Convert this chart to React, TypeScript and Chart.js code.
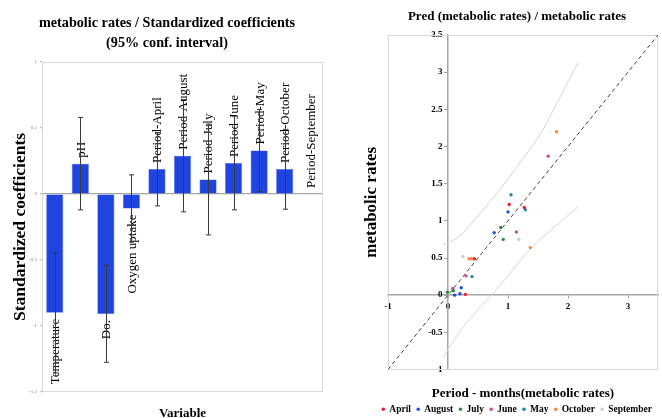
import React, { useEffect, useRef } from 'react';
import { Chart, registerables } from 'chart.js';

Chart.register(...registerables);

const FONT = "'Liberation Serif', 'Times New Roman', serif";

// ---------- Left chart: standardized coefficients ----------
const barCategories = [
  'Temperature', 'pH', 'Do.', 'Oxygen uptake', 'Period-April', 'Period-August',
  'Period-July', 'Period-June', 'Period-May', 'Period-October', 'Period-September',
];
const coefValues = [-0.9, 0.23, -0.91, -0.11, 0.19, 0.29, 0.11, 0.235, 0.33, 0.19, 0];
const coefLower = [-1.355, -0.12, -1.275, -0.365, -0.09, -0.135, -0.31, -0.12, 0.02, -0.115, 0];
const coefUpper = [-0.445, 0.58, -0.54, 0.145, 0.465, 0.715, 0.53, 0.59, 0.64, 0.49, 0];
const coefTicks = [1, 0.5, 0, -0.5, -1, -1.5];

// ---------- Right chart: predicted vs observed ----------
const monthNames = ['April', 'August', 'July', 'June', 'May', 'October', 'September'];
const monthColors = ['#e8242b', '#2250e0', '#2e8b3e', '#d0459c', '#1d8aa8', '#f58a3c', '#cfcfcf'];
const aprilPts = [[1.02, 1.22], [1.27, 1.18], [0.44, 0.49], [0.29, 0.01]];
const augustPts = [[1.0, 1.12], [0.77, 0.84], [0.22, 0.1], [0.11, 0.0], [0.2, 0.02]];
const julyPts = [[0.88, 0.91], [0.92, 0.75], [0.09, 0.06], [-0.01, 0.04]];
const junePts = [[1.67, 1.87], [1.14, 0.85], [0.3, 0.26], [0.08, 0.09]];
const mayPts = [[1.05, 1.35], [1.29, 1.15], [0.4, 0.25]];
const octoberPts = [[1.81, 2.2], [1.37, 0.64], [0.35, 0.49], [0.39, 0.49]];
const septemberPts = [[1.18, 0.75], [0.25, 0.52]];
const monthPoints = [aprilPts, augustPts, julyPts, junePts, mayPts, octoberPts, septemberPts];

const identityLine = [[-1, -1], [3.5, 3.5]];
const upperBand = [[-0.08, 0.68], [0.17, 0.78], [0.44, 1.01], [0.72, 1.28], [0.99, 1.55], [1.27, 1.86], [1.55, 2.18], [1.82, 2.59], [2.17, 3.13]];
const lowerBand = [[-0.08, -0.84], [0.17, -0.52], [0.44, -0.25], [0.72, 0.0], [0.99, 0.25], [1.27, 0.53], [1.55, 0.76], [1.82, 0.95], [2.17, 1.19]];
const xTicksRight = [-1, 0, 1, 2, 3];
const yTicksRight = [-1, -0.5, 0, 0.5, 1, 1.5, 2, 2.5, 3, 3.5];

const toXY = (pts: number[][]) => pts.map(([x, y]) => ({ x, y }));
const fmt = (v: any) => String(Number(v));

const areaBorder = {
  id: 'areaBorder',
  beforeDatasetsDraw(chart: any) {
    const { ctx, chartArea: a } = chart;
    ctx.save();
    ctx.strokeStyle = '#d9d9d9';
    ctx.lineWidth = 1;
    ctx.strokeRect(Math.round(a.left) + 0.5, Math.round(a.top) + 0.5, Math.round(a.right - a.left) - 1, Math.round(a.bottom - a.top) - 1);
    ctx.restore();
  },
};

const barLabels = {
  id: 'barLabels',
  afterDatasetsDraw(chart: any) {
    const { ctx, scales } = chart;
    const x = scales.x;
    const y = scales.y;
    ctx.save();
    ctx.fillStyle = '#000';
    ctx.font = `13px ${FONT}`;
    ctx.textBaseline = 'middle';
    barCategories.forEach((lab, i) => {
      const v = coefValues[i];
      const px = x.getPixelForValue(i) + 1;
      const py = y.getPixelForValue(v);
      ctx.save();
      ctx.translate(px, v >= 0 ? py - 6 : py + 6);
      ctx.rotate(-Math.PI / 2);
      ctx.textAlign = v >= 0 ? 'left' : 'right';
      ctx.fillText(lab, 0, 0);
      ctx.restore();
    });
    ctx.restore();
  },
};

const errorBars = {
  id: 'errorBars',
  afterDatasetsDraw(chart: any) {
    const { ctx, scales } = chart;
    const x = scales.x;
    const y = scales.y;
    ctx.save();
    ctx.strokeStyle = '#3a3a3a';
    ctx.lineWidth = 1;
    coefValues.forEach((_v, i) => {
      const lo = coefLower[i];
      const hi = coefUpper[i];
      if (lo === hi) return;
      const px = Math.round(x.getPixelForValue(i)) + 0.5;
      const y1 = y.getPixelForValue(lo);
      const y2 = y.getPixelForValue(hi);
      ctx.beginPath();
      ctx.moveTo(px, y1);
      ctx.lineTo(px, y2);
      ctx.moveTo(px - 2.5, y1);
      ctx.lineTo(px + 2.5, y1);
      ctx.moveTo(px - 2.5, y2);
      ctx.lineTo(px + 2.5, y2);
      ctx.stroke();
    });
    ctx.restore();
  },
};

const spacerAxis = (w: number) => ({
  type: 'linear',
  position: 'right',
  display: true,
  ticks: { display: false },
  grid: { display: false },
  border: { display: false },
  afterFit: (s: any) => {
    s.width = w;
  },
});

function leftConfig(): any {
  return {
    type: 'bar',
    data: {
      labels: barCategories,
      datasets: [
        {
          data: coefValues,
          backgroundColor: '#1f44e0',
          borderColor: '#4a6cf0',
          borderWidth: 0.6,
          categoryPercentage: 1,
          barPercentage: 0.67,
        },
      ],
    },
    options: {
      responsive: false,
      animation: false,
      layout: { padding: 0 },
      plugins: {
        legend: { display: false },
        tooltip: { enabled: false },
        title: {
          display: true,
          text: ['metabolic rates / Standardized coefficients', '(95% conf. interval)'],
          color: '#000',
          font: { family: FONT, size: 14.2, weight: 'bold', lineHeight: '20px' },
          padding: { top: 13, bottom: 9 },
        },
      },
      scales: {
        x: {
          ticks: { display: false },
          grid: { display: false },
          border: { display: false },
          title: {
            display: true,
            text: 'Variable',
            color: '#000',
            font: { family: FONT, size: 13, weight: 'bold' },
            padding: { top: 0, bottom: 9 },
          },
          afterFit: (s: any) => {
            s.height = 38;
          },
        },
        y: {
          min: -1.5,
          max: 1,
          afterBuildTicks: (s: any) => {
            s.ticks = coefTicks.map((v) => ({ value: v }));
          },
          ticks: { font: { family: FONT, size: 5 }, color: '#7f7f7f', padding: 3, callback: fmt },
          grid: {
            drawOnChartArea: true,
            color: (c: any) => (c.tick && c.tick.value === 0 ? '#a6a6a6' : 'rgba(0,0,0,0)'),
            lineWidth: 1.2,
            tickLength: 2,
            tickColor: '#bfbfbf',
          },
          border: { color: '#d9d9d9' },
          title: {
            display: true,
            text: 'Standardized coefficients',
            color: '#000',
            font: { family: FONT, size: 17.5, weight: 'bold' },
            padding: { top: 9.5, bottom: 0 },
          },
          afterFit: (s: any) => {
            s.width = 42;
          },
        },
        spacer: spacerAxis(11),
      },
    },
    plugins: [areaBorder, barLabels, errorBars],
  };
}

function rightConfig(): any {
  const monthSets = monthNames.map((name, i) => ({
    label: name,
    data: toXY(monthPoints[i]),
    backgroundColor: monthColors[i],
    borderColor: monthColors[i],
    borderWidth: 0,
    pointRadius: 1.7,
    pointHoverRadius: 1.7,
    pointStyle: 'circle',
  }));
  const tickFont = { family: FONT, size: 9, weight: 'bold' };
  return {
    type: 'scatter',
    data: {
      datasets: [
        ...monthSets,
        {
          label: 'identity',
          data: toXY(identityLine),
          showLine: true,
          borderColor: '#404040',
          borderDash: [4, 3],
          borderWidth: 1,
          pointRadius: 0,
          fill: false,
        },
        {
          label: 'upper',
          data: toXY(upperBand),
          showLine: true,
          borderColor: '#d4d4d4',
          borderWidth: 1,
          pointRadius: 0,
          cubicInterpolationMode: 'monotone',
          fill: false,
        },
        {
          label: 'lower',
          data: toXY(lowerBand),
          showLine: true,
          borderColor: '#d4d4d4',
          borderWidth: 1,
          pointRadius: 0,
          cubicInterpolationMode: 'monotone',
          fill: false,
        },
      ],
    },
    options: {
      responsive: false,
      animation: false,
      layout: { padding: 0 },
      plugins: {
        tooltip: { enabled: false },
        title: {
          display: true,
          text: 'Pred (metabolic rates) / metabolic rates',
          color: '#000',
          font: { family: FONT, size: 13, weight: 'bold' },
          padding: { top: 9.2, bottom: 10.2 },
        },
        legend: {
          display: true,
          position: 'bottom',
          labels: {
            filter: (item: any) => item.datasetIndex < monthNames.length,
            usePointStyle: true,
            boxWidth: 2.5,
            boxHeight: 2.5,
            padding: 6,
            color: '#000',
            font: { family: FONT, size: 9.5, weight: 'bold' },
          },
        },
      },
      scales: {
        x: {
          type: 'linear',
          min: -1,
          max: 3.5,
          ticks: { display: false },
          grid: { display: false },
          border: { display: false },
          title: {
            display: true,
            text: 'Period - months(metabolic rates)',
            color: '#000',
            font: { family: FONT, size: 13, weight: 'bold' },
            padding: { top: 0, bottom: -2.8 },
          },
          afterFit: (s: any) => {
            s.height = 29;
          },
        },
        y: {
          type: 'linear',
          min: -1,
          max: 3.5,
          ticks: { display: false },
          grid: { display: false },
          border: { display: false },
          title: {
            display: true,
            text: 'metabolic rates',
            color: '#000',
            font: { family: FONT, size: 17, weight: 'bold' },
            padding: { top: 1.8, bottom: 0 },
          },
          afterFit: (s: any) => {
            s.width = 28;
          },
        },
        spacer: spacerAxis(16),
        xc: {
          type: 'linear',
          axis: 'x',
          position: { y: 0 },
          min: -1,
          max: 3.5,
          afterBuildTicks: (s: any) => {
            s.ticks = xTicksRight.map((v) => ({ value: v }));
          },
          ticks: { font: tickFont, color: '#000', padding: 3, maxRotation: 0, callback: fmt },
          grid: { drawOnChartArea: false, tickLength: 3, color: '#a6a6a6' },
          border: { color: '#a6a6a6', width: 1.5 },
        },
        yc: {
          type: 'linear',
          axis: 'y',
          position: { x: 0 },
          min: -1,
          max: 3.5,
          afterBuildTicks: (s: any) => {
            s.ticks = yTicksRight.map((v) => ({ value: v }));
          },
          ticks: { display: false },
          grid: { drawOnChartArea: false, tickLength: 3, color: '#a6a6a6' },
          border: { color: '#a6a6a6', width: 1.5 },
        },
        ycLabels: {
          type: 'linear',
          axis: 'y',
          position: { x: -0.09 },
          min: -1,
          max: 3.5,
          afterBuildTicks: (s: any) => {
            s.ticks = yTicksRight.map((v) => ({ value: v }));
          },
          ticks: { font: tickFont, color: '#000', callback: fmt },
          grid: { display: false },
          border: { display: false },
        },
      },
    },
    plugins: [areaBorder],
  };
}

export default function App() {
  const leftRef = useRef<HTMLCanvasElement>(null);
  const rightRef = useRef<HTMLCanvasElement>(null);
  useEffect(() => {
    const c1 = new Chart(leftRef.current as HTMLCanvasElement, leftConfig());
    const c2 = new Chart(rightRef.current as HTMLCanvasElement, rightConfig());
    return () => {
      c1.destroy();
      c2.destroy();
    };
  }, []);
  return (
    <div
      style={{
        position: 'fixed',
        left: 0,
        top: 0,
        width: 662,
        height: 418,
        overflow: 'hidden',
        background: '#fff',
      }}
    >
      <canvas
        ref={leftRef}
        width={334}
        height={430}
        style={{ position: 'absolute', left: 0, top: 0, width: 334, height: 430 }}
      />
      <canvas
        ref={rightRef}
        width={314}
        height={424}
        style={{ position: 'absolute', left: 360, top: 0, width: 314, height: 424 }}
      />
    </div>
  );
}
